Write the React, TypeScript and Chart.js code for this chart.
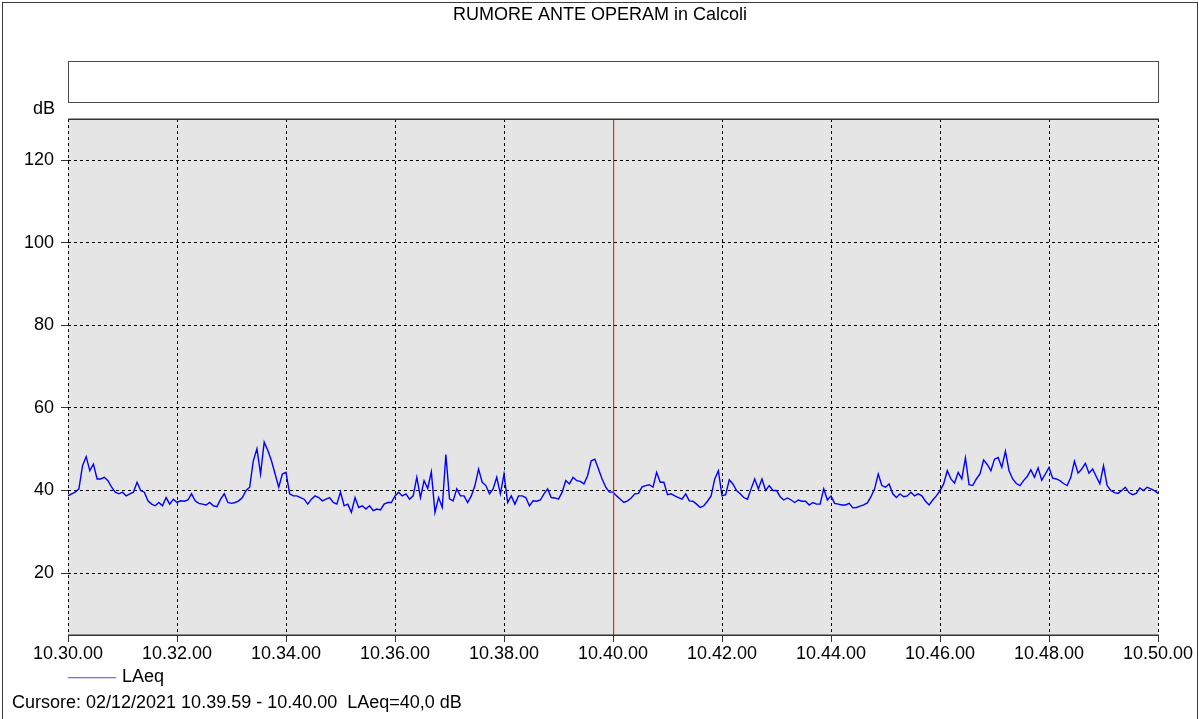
import React, { useEffect, useRef } from "react";
import { Chart, registerables } from "chart.js";

Chart.register(...registerables);

// ---------- data ----------
const chartTitle = "RUMORE ANTE OPERAM in Calcoli";
const yUnitLabel = "dB";
const seriesName = "LAeq";
const cursorText = "Cursore: 02/12/2021 10.39.59 - 10.40.00  LAeq=40,0 dB";

const xTickLabels = [
  "10.30.00", "10.32.00", "10.34.00", "10.36.00", "10.38.00", "10.40.00",
  "10.42.00", "10.44.00", "10.46.00", "10.48.00", "10.50.00",
];
const xTickStepSeconds = 120;
const yTicks = [20, 40, 60, 80, 100, 120];
const yMin = 5;
const yMax = 130;
const cursorSeconds = 600;

// LAeq level (dB), one reading every 4 seconds starting at 10.30.00
const sampleStepSeconds = 4;
const laeq = [
  38.7, 39.2, 39.6, 40.4, 46.0, 48.2, 44.8, 46.4, 42.8, 42.8,
  43.2, 42.4, 40.8, 39.6, 39.2, 39.6, 38.7, 39.2, 39.6, 42.0,
  40.0, 39.6, 37.5, 36.7, 36.3, 37.1, 36.3, 38.3, 36.7, 37.9,
  37.1, 37.5, 37.4, 37.7, 39.2, 37.5, 36.9, 36.7, 36.5, 37.1,
  36.3, 36.1, 37.9, 39.2, 37.1, 36.9, 37.1, 37.5, 38.3, 40.0,
  40.8, 47.2, 50.1, 44.0, 51.7, 49.7, 47.2, 44.0, 40.8, 44.0,
  44.4, 39.2, 38.7, 38.7, 38.3, 37.9, 36.7, 37.9, 38.7, 38.3,
  37.5, 37.9, 38.3, 37.1, 36.7, 39.6, 36.3, 36.7, 34.7, 38.3,
  35.9, 36.3, 35.5, 36.3, 35.1, 35.5, 35.3, 36.7, 37.1, 37.1,
  38.7, 39.6, 38.7, 39.2, 37.9, 38.7, 43.2, 38.3, 42.4, 40.5,
  44.5, 34.7, 38.3, 35.9, 48.7, 38.0, 37.5, 40.4, 38.7, 38.7,
  37.1, 38.7, 41.2, 45.2, 42.0, 41.2, 39.2, 40.4, 43.2, 39.2,
  44.0, 37.1, 38.7, 36.7, 38.7, 38.7, 38.3, 36.3, 37.5, 37.4,
  37.7, 39.2, 40.4, 38.3, 38.2, 37.9, 39.6, 42.4, 41.6, 43.2,
  42.4, 42.2, 41.6, 43.6, 47.2, 47.6, 45.2, 42.8, 40.8, 39.6,
  39.6, 38.7, 37.9, 37.1, 37.5, 38.2, 39.2, 39.3, 40.9, 41.2,
  41.4, 40.8, 44.4, 42.0, 42.0, 39.0, 39.2, 38.7, 38.3, 37.9,
  39.2, 37.5, 37.4, 36.7, 35.9, 36.3, 37.4, 38.7, 42.8, 44.8,
  38.7, 39.0, 42.6, 41.6, 40.0, 39.2, 38.3, 37.9, 40.4, 42.8,
  40.4, 42.8, 40.0, 41.2, 40.0, 40.0, 38.5, 37.7, 38.2, 37.7,
  37.1, 37.7, 37.4, 37.4, 36.5, 37.1, 36.7, 36.7, 40.4, 37.7,
  38.7, 36.9, 36.7, 36.5, 36.5, 36.9, 35.8, 35.9, 36.2, 36.5,
  37.0, 38.5, 40.4, 44.0, 41.2, 40.8, 41.6, 39.2, 38.3, 39.2,
  38.5, 38.7, 39.6, 38.7, 39.2, 38.7, 37.4, 36.5, 37.7, 38.7,
  40.0, 41.6, 44.8, 42.8, 41.8, 44.4, 42.8, 47.9, 41.4, 41.2,
  42.8, 44.0, 47.4, 46.3, 44.8, 47.6, 48.0, 45.6, 49.5, 44.8,
  42.8, 41.7, 41.2, 42.4, 43.4, 45.0, 43.2, 45.5, 42.5, 44.0,
  45.6, 43.0, 42.8, 42.4, 41.7, 41.2, 43.2, 47.1, 44.2, 45.2,
  46.6, 44.2, 45.2, 43.4, 41.6, 46.0, 41.2, 40.0, 39.5, 39.3,
  40.0, 40.8, 39.5, 39.0, 39.3, 40.6, 40.0, 40.8, 40.4, 40.0,
  39.3,
];

// ---------- styling ----------
const FONT = '"Liberation Sans", Arial, Helvetica, sans-serif';
const FONT_SIZE = 18;
const W = 1199;
const H = 719;
const PLOT_TOP = 119;
const PLOT_BOTTOM = 635;
const PLOT_LEFT = 68;
const PLOT_RIGHT = 1158;

const decorPlugin = {
  id: "decor",
  beforeDraw(chart: any) {
    const { ctx, chartArea } = chart;
    ctx.save();
    ctx.fillStyle = "#ffffff";
    ctx.fillRect(0, 0, W, H);
    // plot background
    ctx.fillStyle = "#e5e5e5";
    ctx.fillRect(chartArea.left, chartArea.top, chartArea.right - chartArea.left, chartArea.bottom - chartArea.top);
    // outer frame
    ctx.strokeStyle = "#3a3a3a";
    ctx.lineWidth = 1;
    ctx.strokeRect(2.5, 2.5, 1195, H + 10);
    // title
    ctx.fillStyle = "#000000";
    ctx.font = `${FONT_SIZE}px ${FONT}`;
    ctx.textAlign = "center";
    ctx.textBaseline = "middle";
    ctx.fillText(chartTitle, 600, 15);
    // empty header box
    ctx.fillStyle = "#ffffff";
    ctx.fillRect(68.5, 61.5, 1090, 41);
    ctx.strokeStyle = "#4a4a4a";
    ctx.strokeRect(68.5, 61.5, 1090, 41);
    // unit label
    ctx.fillStyle = "#000000";
    ctx.textAlign = "right";
    ctx.fillText(yUnitLabel, 55, 109);
    // legend sample line
    ctx.fillStyle = "rgb(112, 112, 255)";
    ctx.fillRect(68, 677, 48, 1.3);
    ctx.fillStyle = "#000000";
    ctx.textAlign = "left";
    ctx.fillText(seriesName, 122, 677);
    // cursor text
    ctx.fillText(cursorText, 12, 703);
    ctx.restore();
  },
  afterDraw(chart: any) {
    const { ctx, chartArea, scales } = chart;
    ctx.save();
    // cursor line
    const cx = Math.round(scales.x.getPixelForValue(cursorSeconds));
    ctx.fillStyle = "rgb(255, 30, 30)";
    ctx.fillRect(cx, chartArea.top, 1.2, chartArea.bottom - chartArea.top);
    // top and bottom frame
    ctx.fillStyle = "#333333";
    ctx.fillRect(chartArea.left, chartArea.top - 0.5, chartArea.right - chartArea.left + 1, 1.5);
    ctx.fillRect(chartArea.left, chartArea.bottom - 0.5, chartArea.right - chartArea.left + 1, 1.5);
    ctx.restore();
  },
};

export default function App() {
  const ref = useRef<HTMLCanvasElement | null>(null);

  useEffect(() => {
    document.body.style.margin = "0";
    document.body.style.overflow = "hidden";
    const canvas = ref.current;
    if (!canvas) return;
    const points = laeq.map((v, i) => ({ x: i * sampleStepSeconds, y: v }));
    const xMax = (xTickLabels.length - 1) * xTickStepSeconds;

    const chart = new Chart(canvas, {
      type: "line",
      data: {
        datasets: [
          {
            label: seriesName,
            data: points,
            borderColor: "#0000ff",
            borderWidth: 1.4,
            pointRadius: 0,
            tension: 0,
            fill: false,
          },
        ],
      },
      options: {
        responsive: false,
        animation: false,
        devicePixelRatio: 1,
        events: [],
        layout: {
          padding: { left: 0, top: PLOT_TOP, right: W - PLOT_RIGHT, bottom: 0 },
        },
        plugins: {
          legend: { display: false },
          title: { display: false },
          tooltip: { enabled: false },
        },
        scales: {
          x: {
            type: "linear",
            min: 0,
            max: xMax,
            afterBuildTicks: (s: any) => {
              s.ticks = xTickLabels.map((_, i) => ({ value: i * xTickStepSeconds }));
            },
            afterFit: (s: any) => {
              s.height = H - PLOT_BOTTOM;
            },
            ticks: {
              autoSkip: false,
              maxRotation: 0,
              minRotation: 0,
              padding: 1,
              color: "#000",
              font: { family: FONT, size: FONT_SIZE },
              callback: (v: any) => xTickLabels[Math.round(Number(v) / xTickStepSeconds)],
            },
            grid: {
              color: "#000",
              lineWidth: 1,
              tickLength: 7,
              tickColor: "#333",
              tickBorderDash: [],
            },
            border: { display: false, dash: [3, 3] },
          },
          y: {
            type: "linear",
            min: yMin,
            max: yMax,
            afterBuildTicks: (s: any) => {
              s.ticks = yTicks.map((v) => ({ value: v }));
            },
            afterFit: (s: any) => {
              s.width = PLOT_LEFT;
            },
            ticks: {
              padding: 7,
              color: "#000",
              font: { family: FONT, size: FONT_SIZE },
              callback: (v: any) => String(v),
            },
            grid: {
              color: "#000",
              lineWidth: 1,
              tickLength: 7,
              tickColor: "#333",
              tickBorderDash: [],
            },
            border: { display: false, dash: [3, 3] },
          },
        },
      },
      plugins: [decorPlugin],
    } as any);

    return () => chart.destroy();
  }, []);

  return (
    <div style={{ width: W, height: H, overflow: "hidden" }}>
      <canvas ref={ref} width={W} height={H} style={{ display: "block", width: W, height: H }} />
    </div>
  );
}
